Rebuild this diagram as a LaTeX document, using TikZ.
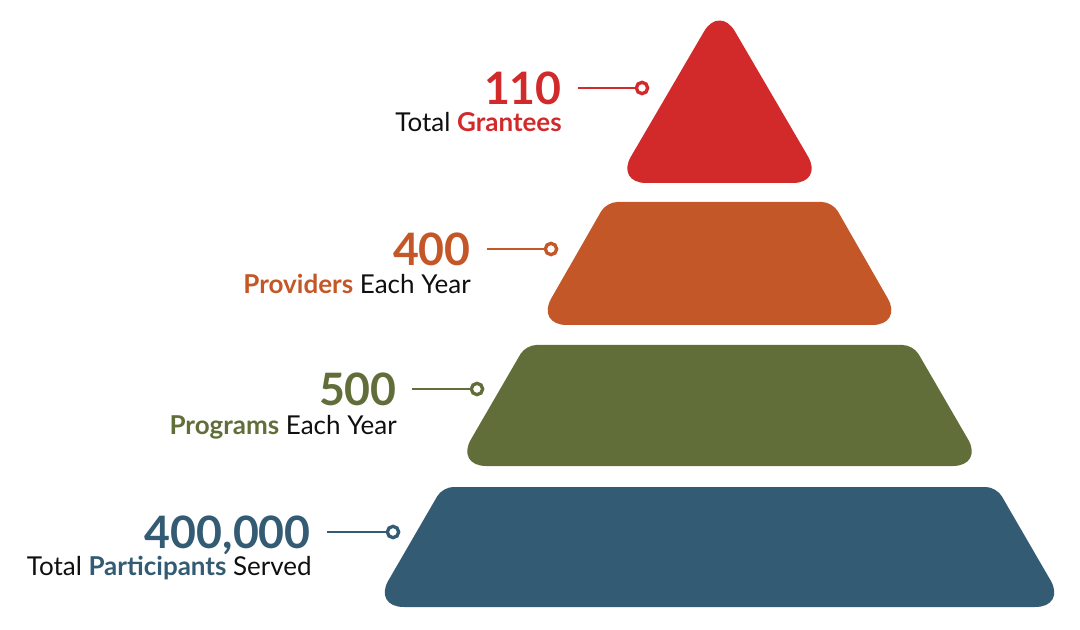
\documentclass[tikz,border=0pt]{standalone}
\usepackage{fontspec}
\setmainfont{Lato}
\usetikzlibrary{positioning}
\definecolor{grantred}{RGB}{210,42,43}
\definecolor{provorange}{RGB}{196,87,40}
\definecolor{proggreen}{RGB}{97,110,57}
\definecolor{partblue}{RGB}{51,91,116}
\definecolor{captionblack}{RGB}{15,15,15}
\tikzstyle{bignum}=[anchor=east, inner sep=0, text depth=0pt, font=\fontsize{33.5}{33.5}\selectfont\bfseries]
\tikzstyle{caption}=[anchor=base east, inner sep=0, font=\fontsize{19.5}{19.5}\selectfont, text=captionblack]
\tikzstyle{pin}=[circle, draw, fill=white, line width=2.5pt, minimum size=8.5pt, inner sep=0]
\tikzstyle{leader}=[line width=2pt]

\begin{document}
\begin{tikzpicture}[x=0.75pt, y=-0.75pt]
        \useasboundingbox (0,0) rectangle (1080,630);
        % pyramid tiers, top to bottom
        \fill[grantred] (719.5,183) [rounded corners=23pt] -- (823.5,183) -- (719.5,5) -- (615.5,183) -- cycle;
        \fill[provorange] (719.5,325) [rounded corners=23pt] -- (903,325) [rounded corners=8pt] -- (832.5,202) -- (606.5,202) [rounded corners=23pt] -- (536,325) -- cycle;
        \fill[proggreen] (719.5,466) [rounded corners=23pt] -- (983.5,466) [rounded corners=8pt] -- (913.3,345) -- (525.7,345) [rounded corners=23pt] -- (455.5,466) -- cycle;
        \fill[partblue] (719.5,607) [rounded corners=23pt] -- (1066,607) [rounded corners=8pt] -- (996.4,487) -- (442.6,487) [rounded corners=23pt] -- (373,607) -- cycle;
        % labels
        \node[bignum, text=grantred] (n110) at (562,88) {110};
        \node[caption] (c110) at (562,132) {Total \textbf{\color{grantred}Grantees}};
        \node[bignum, text=provorange] (n400) at (471,249) {400};
        \node[caption] (c400) at (471,294) {\textbf{\color{provorange}Providers} Each Year};
        \node[bignum, text=proggreen] (n500) at (397,389) {500};
        \node[caption] (c500) at (397,434) {\textbf{\color{proggreen}Programs} Each Year};
        \node[bignum, text=partblue] (n400k) at (311,532) {400,000};
        \node[caption] (c400k) at (312,575) {Total \textbf{\color{partblue}Participants} Served};
        % leaders
        \coordinate (l110) at (578,88);
        \coordinate (l400) at (487,249);
        \coordinate (l500) at (412,389);
        \coordinate (l400k) at (327,532);
        \node[pin, draw=grantred] (p110) at (642,88) {};
        \node[pin, draw=provorange] (p400) at (551,249) {};
        \node[pin, draw=proggreen] (p500) at (477,389) {};
        \node[pin, draw=partblue] (p400k) at (393,532) {};
        \draw[leader, grantred] (l110) -- (p110);
        \draw[leader, provorange] (l400) -- (p400);
        \draw[leader, proggreen] (l500) -- (p500);
        \draw[leader, partblue] (l400k) -- (p400k);
    \end{tikzpicture}
\end{document}
